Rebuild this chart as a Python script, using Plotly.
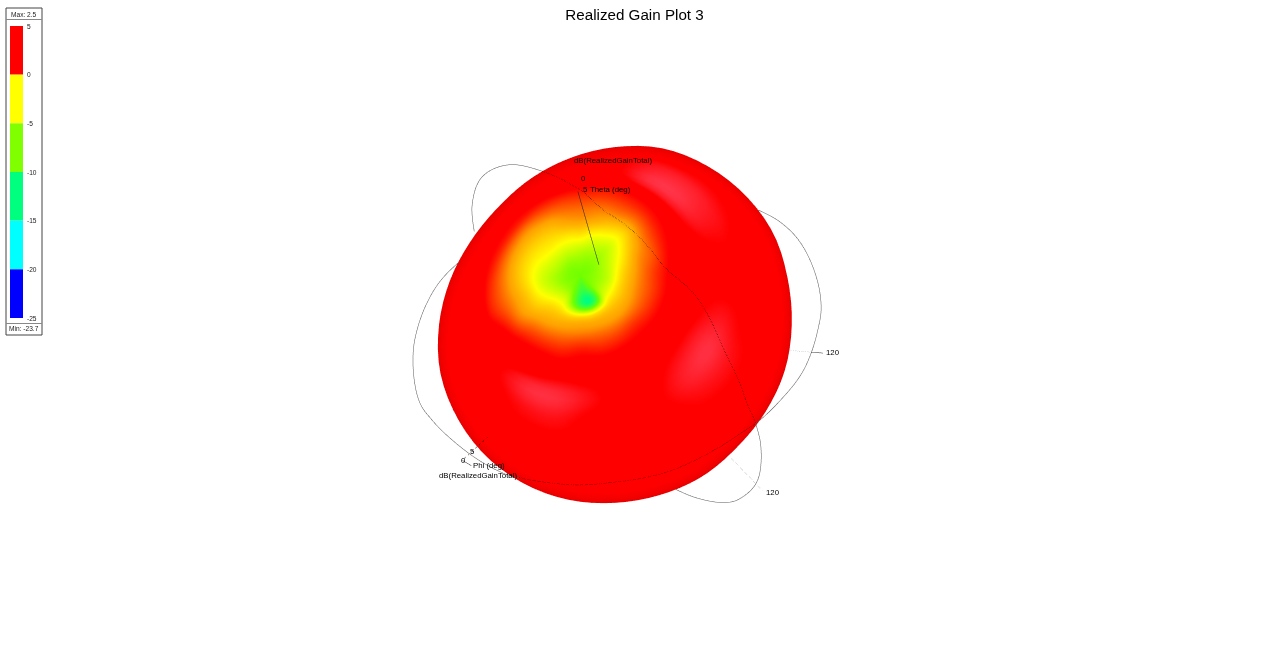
import numpy as np
import plotly.graph_objects as go

TITLE = "Realized Gain Plot 3"
LEGEND_EDGES = [0, -5, -10, -15, -20, -25]
LEGEND_TICKS = [5, 0, -5, -10, -15, -20, -25]
LEGEND_TICK_TEXT = ["5", "0", "-5", "-10", "-15", "-20", "-25"]
LEGEND_COLORS = ["#ff0000", "#ffff00", "#7fff00", "#00ff7f", "#00ffff", "#0000ff"]
GAIN_MAX = 2.5
GAIN_MIN = -23.7

# angle from the pattern's null (deg), and azimuth around it (deg)
ALPHA = [0, 5, 10, 15, 20, 25, 30, 35, 40, 50, 60, 70, 80, 90, 100, 110, 120, 135, 180]
AZIMUTH = [0, 15, 30, 45, 60, 75, 90, 105, 120, 135, 150, 165, 180, 195, 210, 225, 240, 255, 270, 285, 300, 315, 330, 345]
GAIN = [
    [-9.5, -9.5, -9.5, -9.5, -9.5, -9.5, -9.5, -9.5, -9.5, -9.5, -9.5, -9.5, -9.5, -9.5, -9.5, -9.5, -9.5, -9.5, -9.5, -9.5, -9.5, -9.5, -9.5, -9.5],
    [-8.8, -8.9, -9.0, -9.0, -9.0, -8.9, -8.8, -8.8, -8.9, -9.0, -9.0, -9.0, -9.0, -9.0, -8.9, -8.9, -9.2, -10.0, -11.0, -11.0, -10.0, -9.2, -8.9, -8.8],
    [-7.5, -7.6, -7.9, -8.2, -8.0, -7.8, -7.5, -7.4, -7.5, -7.5, -7.6, -7.8, -8.0, -7.8, -7.4, -7.0, -7.2, -9.5, -12.0, -13.0, -11.5, -8.0, -7.4, -7.5],
    [-5.0, -5.6, -6.4, -7.1, -6.7, -6.2, -5.5, -5.8, -6.0, -6.1, -6.4, -6.8, -6.9, -6.5, -5.8, -5.0, -4.8, -4.9, -5.0, -5.3, -5.2, -5.0, -5.0, -4.9],
    [-3.2, -3.5, -4.4, -5.4, -4.8, -4.0, -3.6, -4.0, -4.8, -5.2, -5.5, -5.6, -5.3, -4.7, -4.35, -3.7, -3.4, -3.2, -3.1, -3.2, -3.4, -3.5, -3.4, -3.2],
    [-1.9, -2.4, -2.7, -3.3, -3.0, -2.95, -2.75, -3.0, -3.75, -4.2, -4.4, -4.3, -3.9, -3.4, -3.1, -2.2, -1.9, -1.8, -1.5, -1.8, -1.9, -1.8, -2.0, -2.0],
    [-0.85, -1.1, -1.4, -1.7, -1.8, -1.9, -1.85, -2.1, -2.5, -3.05, -3.05, -2.9, -2.65, -2.3, -1.5, -0.9, -0.7, -0.75, -0.55, -0.75, -0.8, -0.8, -0.9, -0.9],
    [0.15, -0.4, -0.5, -0.6, -0.7, -1.0, -0.95, -1.1, -1.35, -1.5, -1.5, -1.5, -1.5, -1.3, -0.4, 0.0, 0.4, 0.8, 0.6, 0.2, -0.35, 0.0, -0.1, -0.1],
    [0.5, 0.5, 1.2, 1.7, 1.6, 0.5, 0.0, -0.2, -0.6, -0.85, -0.8, -0.7, -0.35, -0.15, 0.0, 1.0, 1.9, 2.0, 1.4, 0.6, 0.3, 0.8, 0.9, 0.6],
    [0.7, 1.0, 1.6, 2.0, 1.8, 1.0, 0.3, 0.2, 0.1, 0.0, 0.1, 0.2, 0.3, 0.5, 0.6, 0.8, 1.3, 1.4, 0.8, 0.6, 0.9, 1.8, 2.2, 1.5],
    [0.7, 0.7, 1.0, 1.1, 0.8, 0.6, 0.5, 0.4, 0.4, 0.4, 0.4, 0.4, 0.5, 0.5, 0.6, 0.7, 0.7, 0.7, 0.6, 0.5, 0.7, 1.3, 1.5, 1.0],
    [0.7, 0.7, 0.8, 0.8, 0.7, 0.6, 0.6, 0.5, 0.5, 0.5, 0.5, 0.5, 0.5, 0.6, 0.6, 0.7, 0.7, 0.6, 0.6, 0.6, 0.7, 0.8, 0.9, 0.8],
    [0.8, 0.8, 0.8, 0.8, 0.7, 0.7, 0.6, 0.6, 0.6, 0.6, 0.6, 0.6, 0.6, 0.6, 0.7, 0.7, 0.7, 0.7, 0.7, 0.7, 0.7, 0.8, 0.8, 0.8],
    [0.8, 0.8, 0.8, 0.8, 0.8, 0.7, 0.7, 0.7, 0.7, 0.7, 0.7, 0.7, 0.7, 0.7, 0.7, 0.7, 0.7, 0.7, 0.7, 0.7, 0.8, 0.8, 0.8, 0.8],
    [0.8, 0.8, 0.8, 0.8, 0.8, 0.8, 0.8, 0.8, 0.8, 0.8, 0.8, 0.8, 0.8, 0.8, 0.8, 0.8, 0.8, 0.8, 0.8, 0.8, 0.8, 0.8, 0.8, 0.8],
    [0.9, 0.9, 0.9, 0.9, 0.9, 0.9, 0.9, 0.9, 0.9, 0.9, 0.9, 0.9, 0.9, 0.9, 0.9, 0.9, 0.9, 0.9, 0.9, 0.9, 0.9, 0.9, 0.9, 0.9],
    [0.9, 0.9, 0.9, 0.9, 0.9, 0.9, 0.9, 0.9, 0.9, 0.9, 0.9, 0.9, 0.9, 0.9, 0.9, 0.9, 0.9, 0.9, 0.9, 0.9, 0.9, 0.9, 0.9, 0.9],
    [1.0, 1.0, 1.0, 1.0, 1.0, 1.0, 1.0, 1.0, 1.0, 1.0, 1.0, 1.0, 1.0, 1.0, 1.0, 1.0, 1.0, 1.0, 1.0, 1.0, 1.0, 1.0, 1.0, 1.0],
    [1.0, 1.0, 1.0, 1.0, 1.0, 1.0, 1.0, 1.0, 1.0, 1.0, 1.0, 1.0, 1.0, 1.0, 1.0, 1.0, 1.0, 1.0, 1.0, 1.0, 1.0, 1.0, 1.0, 1.0],
]

# apparent outline of the pattern, by direction as seen from its centre
OUTLINE_ANGLE = [0, 15, 30, 45, 60, 75, 90, 105, 120, 135, 150, 165, 180, 195, 210, 225, 240, 255, 270, 285, 300, 315, 330, 345]
OUTLINE_RADIUS = [176, 178, 182, 183, 183, 182, 177, 172, 168, 165, 166, 170, 175, 180, 182, 183, 182, 180, 177, 175, 174, 172, 173, 175]

# polar cuts: direction (deg) and radius around the pattern centre
CUT_A_BACK_ANGLE = [146.4, 139.3, 131.7, 123.4, 115.2]
CUT_A_BACK_RADIUS = [168, 187, 198, 191, 169]
CUT_A_FRONT_ANGLE = [115.2, 104.5, 91, 54, 22.3, -9.7, -28, -35]
CUT_A_FRONT_RADIUS = [169, 139, 108, 77, 84, 107, 145, 171]
CUT_A_LOOP_ANGLE = [325, 319.9, 312.5, 305.9, 301.4, 295.5, 290.2]
CUT_A_LOOP_RADIUS = [171, 190, 210, 213, 207, 191, 174]
CUT_B_LOOP_ANGLE = [157.9, 168, 181.5, 189.9, 201, 207.6, 216.8, 226, 235, 238]
CUT_B_LOOP_RADIUS = [167, 182, 197, 204, 209, 205, 197, 190, 183, 179]
CUT_B_FRONT_ANGLE = [238, 247.5, 257.6, 268.2, 277.4, 286.9, 302.8, 316.2, 325]
CUT_B_FRONT_RADIUS = [179, 170, 163, 157, 155, 155, 157, 163, 171]
CUT_B_BACK_ANGLE = [325, 335.6, 346.5, 358.6, 365, 373.5, 383.9, 391.7, 398.6]
CUT_B_BACK_RADIUS = [171, 181, 193, 202, 206, 206, 202, 194, 183]
THETA_AXIS_ANGLE = [105.5, 104.9]
THETA_AXIS_RADIUS = [138, 62]
PHI_AXIS_ANGLE = [221.6, 221.4]
PHI_AXIS_RADIUS = [203, 169]
PHI_TICK_ANGLE = [221.6, 224.4]
PHI_TICK_RADIUS = [203, 200]
R_TICK_A_ANGLE = [351.7, 352.1]
R_TICK_A_RADIUS = [174, 197]
R_TICK_A_END_ANGLE = [352.1, 352.3]
R_TICK_A_END_RADIUS = [197, 209]
R_TICK_B_ANGLE = [311.1, 311.7]
R_TICK_B_RADIUS = [175, 221]

W, H = 1269, 656
CX, CY = 615, 325
NULL_RIGHT, NULL_UP = -37 / 177, 53 / 177
DENT = 1.2
FRONT = -390
ZOOM = 2.01


def smooth(t_new, t, v, axis=0):
    """Cubic (Catmull-Rom style) evaluation of a table on a finer display mesh."""
    t = np.asarray(t, float)
    v = np.moveaxis(np.asarray(v, float), axis, 0)
    slopes = np.gradient(v, t, axis=0)
    i = np.clip(np.searchsorted(t, t_new, side="right") - 1, 0, len(t) - 2)
    h = t[i + 1] - t[i]
    s = (t_new - t[i]) / h
    shape = (-1,) + (1,) * (v.ndim - 1)
    s = s.reshape(shape)
    hh = h.reshape(shape)
    out = ((2 * s**3 - 3 * s**2 + 1) * v[i] + (s**3 - 2 * s**2 + s) * hh * slopes[i]
           + (-2 * s**3 + 3 * s**2) * v[i + 1] + (s**3 - s**2) * hh * slopes[i + 1])
    return np.moveaxis(out, 0, axis)


# ---- surface mesh from the table ----
az_wrap = np.array([AZIMUTH[-2] - 360, AZIMUTH[-1] - 360] + AZIMUTH + [360, 375], float)
table = np.array(GAIN, float)
table = np.c_[table[:, -2:], table, table[:, :2]]
alpha_deg = np.r_[np.arange(0, 40, 1.25), np.arange(40, 180.1, 2.5)]
az_deg = np.arange(0, 360.1, 3.75)
gain = smooth(az_deg, az_wrap, smooth(alpha_deg, ALPHA, table, axis=0), axis=1)

alpha = np.radians(alpha_deg)[:, None]
az = np.radians(az_deg)[None, :]
p = np.array([NULL_RIGHT, NULL_UP, np.sqrt(1 - NULL_RIGHT**2 - NULL_UP**2)])
e1 = np.array([1.0, 0, 0]) - p[0] * p
e1 /= np.linalg.norm(e1)
e2 = np.cross(p, e1)
d = [np.cos(alpha) * p[i] + np.sin(alpha) * (np.cos(az) * e1[i] + np.sin(az) * e2[i]) for i in range(3)]
rho2 = d[0] ** 2 + d[1] ** 2
ang = np.degrees(np.arctan2(d[1], d[0])) % 360
outline_a = np.array([OUTLINE_ANGLE[-2] - 360, OUTLINE_ANGLE[-1] - 360] + OUTLINE_ANGLE + [360, 375], float)
outline_r = np.array(OUTLINE_RADIUS[-2:] + OUTLINE_RADIUS + OUTLINE_RADIUS[:2], float)
edge = smooth(ang.ravel(), outline_a, outline_r).reshape(ang.shape)
r = 177 + (edge - 177) * rho2 - DENT * np.maximum(-gain, 0)
X, Z, Y = r * d[0], r * d[1], -r * d[2]

CMIN, CMAX = -25.0, 2.5
def stop(v):
    return (v - CMIN) / (CMAX - CMIN)
colorscale = [
    [stop(-25), "#0000ff"], [stop(-20), "#00ffff"], [stop(-13), "#00ff7f"],
    [stop(-9.5), "#70ff00"], [stop(-6.2), "#ffff00"], [stop(-3.5), "#ffa000"],
    [stop(-1), "#ff0000"], [stop(1.1), "#ff0000"], [stop(2.5), "#ff3a50"],
]

fig = go.Figure()
fig.add_trace(go.Surface(
    x=X, y=Y, z=Z, surfacecolor=gain, cmin=CMIN, cmax=CMAX, colorscale=colorscale,
    showscale=False, hoverinfo="skip",
    lighting=dict(ambient=0.88, diffuse=0.35, specular=0.0, roughness=0.6, fresnel=0.0),
    lightposition=dict(x=2500, y=1500, z=-3000),
))


def cut(angle, radius, color, dash):
    n = len(angle)
    if n > 2:
        s = np.arange(n)
        fine = np.linspace(0, n - 1, 8 * n)
        a = smooth(fine, s, angle)
        rr = smooth(fine, s, radius)
    else:
        a, rr = np.array(angle, float), np.array(radius, float)
    t = np.radians(a)
    fig.add_trace(go.Scatter3d(
        x=rr * np.cos(t), y=[FRONT] * len(a), z=rr * np.sin(t), mode="lines",
        line=dict(color=color, width=1, dash=dash), hoverinfo="skip", showlegend=False,
    ))


GREY, DARK, LIGHT = "#555555", "#000000", "#999999"
cut(CUT_A_BACK_ANGLE, CUT_A_BACK_RADIUS, GREY, "solid")
cut(CUT_A_FRONT_ANGLE, CUT_A_FRONT_RADIUS, DARK, "dot")
cut(CUT_A_LOOP_ANGLE, CUT_A_LOOP_RADIUS, GREY, "solid")
cut(CUT_B_LOOP_ANGLE, CUT_B_LOOP_RADIUS, GREY, "solid")
cut(CUT_B_FRONT_ANGLE, CUT_B_FRONT_RADIUS, DARK, "dot")
cut(CUT_B_BACK_ANGLE, CUT_B_BACK_RADIUS, GREY, "solid")
cut(THETA_AXIS_ANGLE, THETA_AXIS_RADIUS, "#222222", "solid")
cut(PHI_AXIS_ANGLE, PHI_AXIS_RADIUS, DARK, "dot")
cut(PHI_TICK_ANGLE, PHI_TICK_RADIUS, "#333333", "solid")
cut(R_TICK_A_ANGLE, R_TICK_A_RADIUS, LIGHT, "dot")
cut(R_TICK_A_END_ANGLE, R_TICK_A_END_RADIUS, "#333333", "solid")
cut(R_TICK_B_ANGLE, R_TICK_B_RADIUS, LIGHT, "dot")

# ---- stepped legend ----
fig.add_trace(go.Bar(
    x=[0] * len(LEGEND_EDGES), y=[5] * len(LEGEND_EDGES), base=LEGEND_EDGES, width=1,
    marker=dict(color=LEGEND_COLORS, line=dict(width=0)), hoverinfo="skip", showlegend=False,
))


def px(x):
    return x / W


def py(y):
    return 1 - y / H


FONT = "Liberation Sans"
labels = [
    ("dB(RealizedGainTotal)", 613, 161), ("0", 583, 178), ("5", 585, 189), ("Theta (deg)", 610, 190),
    ("5", 472, 451), ("0", 463, 460), ("Phi (deg)", 489, 465), ("dB(RealizedGainTotal)", 478, 475),
    ("120", 833, 352), ("120", 773, 493),
]
annotations = [
    dict(text=t, x=px(x), y=py(y), xref="paper", yref="paper", showarrow=False,
         xanchor="center", yanchor="middle", font=dict(family=FONT, size=7.8, color="#000000"))
    for t, x, y in labels
]
annotations += [
    dict(text=t, x=px(24), y=py(y), xref="paper", yref="paper", showarrow=False,
         xanchor="center", yanchor="middle", font=dict(family=FONT, size=6.6, color="#222222"))
    for t, y in [(f"Max: {GAIN_MAX}", 14), (f"Min: {GAIN_MIN}", 329)]
]
annotations += [
    dict(text=t, x=px(25), y=v, xref="paper", yref="y", showarrow=False,
         xanchor="left", yanchor="middle", font=dict(family=FONT, size=6.6, color="#222222"))
    for t, v in zip(LEGEND_TICK_TEXT, LEGEND_TICKS)
]
shapes = [
    dict(type="rect", xref="paper", yref="paper", x0=px(6), x1=px(42), y0=py(335), y1=py(8),
         line=dict(color="#444444", width=1)),
    dict(type="line", xref="paper", yref="paper", x0=px(6), x1=px(42), y0=py(19.5), y1=py(19.5),
         line=dict(color="#888888", width=1)),
    dict(type="line", xref="paper", yref="paper", x0=px(6), x1=px(42), y0=py(323.5), y1=py(323.5),
         line=dict(color="#888888", width=1)),
]

fig.update_layout(
    width=W, height=H,
    margin=dict(l=0, r=0, t=0, b=0),
    paper_bgcolor="white", plot_bgcolor="white", showlegend=False, barmode="overlay",
    title=dict(text=TITLE, x=0.5, y=1 - 15 / H, xanchor="center", yanchor="middle",
               font=dict(family=FONT, size=15.2, color="#000000")),
    annotations=annotations, shapes=shapes,
    xaxis=dict(domain=[px(10), px(23)], range=[-0.5, 0.5], visible=False, fixedrange=True),
    yaxis=dict(domain=[py(318), py(26)], range=[-25, 5], side="right", tickvals=LEGEND_TICKS,
               showticklabels=False,
               showgrid=False, zeroline=False, showline=False, ticks="", fixedrange=True),
    scene=dict(
        domain=dict(x=[0, 1], y=[0, 1]),
        xaxis=dict(visible=False, range=[-CX, W - CX]),
        yaxis=dict(visible=False, range=[-400, 400]),
        zaxis=dict(visible=False, range=[-(H - CY), CY]),
        aspectmode="manual",
        aspectratio=dict(x=ZOOM * W / H, y=ZOOM * 800 / H, z=ZOOM),
        bgcolor="rgba(0,0,0,0)",
        camera=dict(
            eye=dict(x=0, y=-4, z=0), up=dict(x=0, y=0, z=1), center=dict(x=0, y=0, z=0),
            projection=dict(type="orthographic"),
        ),
    ),
)

fig.write_html(
    "out.html",
    config=dict(displayModeBar=False),
    post_script="document.body.style.margin='0';document.body.style.overflow='hidden';",
)
